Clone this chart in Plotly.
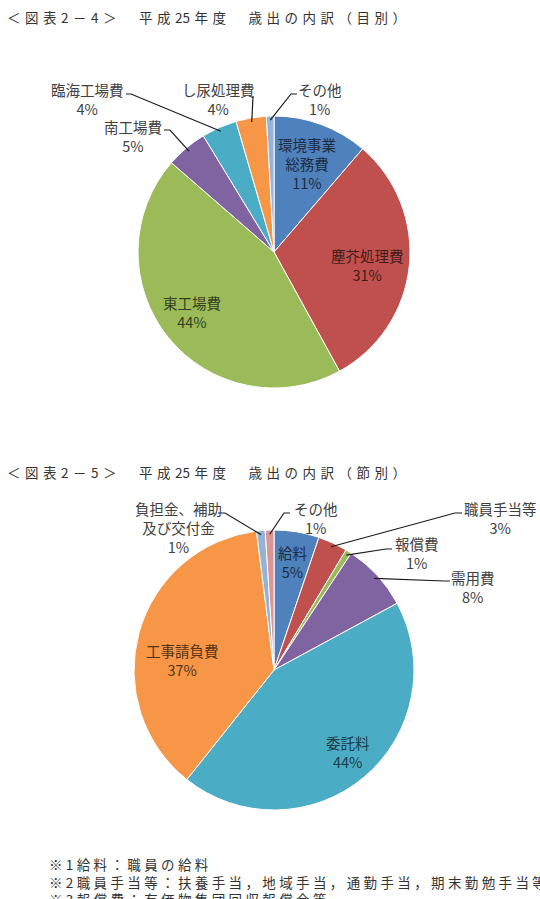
import math
import plotly.graph_objects as go

W, H = 540, 899

# ---------------- data ----------------
labels1 = ["環境事業総務費", "塵芥処理費", "東工場費", "南工場費", "臨海工場費", "し尿処理費", "その他"]
display1 = ["環境事業<br>総務費", "塵芥処理費", "東工場費", "南工場費", "臨海工場費", "し尿処理費", "その他"]
values1 = [11.3, 30.7, 44.4, 4.9, 4.2, 3.6, 0.9]
colors1 = ["#4F81BD", "#C0504D", "#9BBB59", "#8064A2", "#4BACC6", "#F79646", "#95B3D7"]

labels2 = ["給料", "職員手当等", "報償費", "需用費", "委託料", "工事請負費", "負担金、補助及び交付金", "その他"]
display2 = ["給料", "職員手当等", "報償費", "需用費", "委託料", "工事請負費", "負担金、補助<br>及び交付金", "その他"]
values2 = [5.2, 3.4, 0.7, 7.8, 43.6, 37.3, 1.0, 1.0]
colors2 = ["#4F81BD", "#C0504D", "#9BBB59", "#8064A2", "#4BACC6", "#F79646", "#95B3D7", "#D99694"]

title1 = "＜図表2－4＞　平成25年度　歳出の内訳（目別）"
title2 = "＜図表2－5＞　平成25年度　歳出の内訳（節別）"
notes = [
    "※1給料：職員の給料",
    "※2職員手当等：扶養手当，地域手当，通勤手当，期末勤勉手当等",
    "※3報償費：有価物集団回収報償金等",
]

# ---------------- layout constants (pixels) ----------------
C1, R1 = (274, 252), 136
C2, R2 = (274, 670), 140
FONT = "Noto Sans CJK JP, Noto Sans, sans-serif"


def px(x, y):
    return x / W, 1 - y / H


def darker(hexc, f=0.35):
    h = hexc.lstrip("#")
    r, g, b = (int(h[i:i + 2], 16) for i in (0, 2, 4))
    return "#%02x%02x%02x" % (int(r * f), int(g * f), int(b * f))


def edge(center, r, values, i, k=0.97):
    total = sum(values)
    cum = sum(values[:i]) + values[i] / 2
    a = 2 * math.pi * cum / total
    return center[0] + k * r * math.sin(a), center[1] - k * r * math.cos(a)


def spaced(s, sep):
    out = ""
    for j, ch in enumerate(s):
        out += ch
        if j < len(s) - 1:
            nxt = s[j + 1]
            if ch.isdigit() and nxt.isdigit():
                continue
            out += sep
    return out


def dom(center, r):
    cx, cy = center
    return dict(x=[(cx - r) / W, (cx + r) / W], y=[1 - (cy + r) / H, 1 - (cy - r) / H])


fig = go.Figure()
fig.add_trace(go.Pie(
    labels=labels1, values=values1, sort=False, direction="clockwise", rotation=0,
    marker=dict(colors=colors1, line=dict(color="white", width=1)),
    textinfo="none", hoverinfo="label+percent", showlegend=False,
    domain=dom(C1, R1),
))
fig.add_trace(go.Pie(
    labels=labels2, values=values2, sort=False, direction="clockwise", rotation=0,
    marker=dict(colors=colors2, line=dict(color="white", width=1)),
    textinfo="none", hoverinfo="label+percent", showlegend=False,
    domain=dom(C2, R2),
))

annotations = []
shapes = []


def pct(values, i):
    return "%d%%" % round(values[i] / sum(values) * 100)


def add_label(text, x, y, color, size=14.5):
    xx, yy = px(x, y)
    annotations.append(dict(
        text=text, x=xx, y=yy, xref="paper", yref="paper", showarrow=False,
        xanchor="center", yanchor="middle", align="center",
        font=dict(family=FONT, size=size, color=color),
    ))


def add_leader(start, elbow, end):
    pts = [px(*start), px(*elbow), px(*end)]
    path = "M %f,%f L %f,%f L %f,%f" % (pts[0][0], pts[0][1], pts[1][0], pts[1][1], pts[2][0], pts[2][1])
    shapes.append(dict(type="path", path=path, xref="paper", yref="paper",
                       line=dict(color="#1a1a1a", width=1.2)))


# chart 1 labels: (index, center x, center y, inside?)
lab1 = [(0, 307, 163, True), (1, 367, 265, True), (2, 192, 312, True),
        (3, 133, 136, False), (4, 87, 99, False), (5, 218, 99, False), (6, 320, 99, False)]
for i, x, y, inside in lab1:
    col = darker(colors1[i]) if inside else "#404040"
    add_label(display1[i] + "<br>" + pct(values1, i), x, y, col)

lead1 = [(3, (164, 130), (170, 130)), (4, (126, 94), (131, 94)),
         (5, (253, 96), (253, 97)), (6, (297, 94), (291, 94))]
for i, s, e in lead1:
    add_leader(s, e, edge(C1, R1, values1, i))

lab2 = [(0, 292, 562, True), (1, 500, 517.5, False), (2, 417, 552.5, False), (3, 473, 586.5, False),
        (4, 348, 752, True), (5, 182, 660, True), (6, 178, 527, False), (7, 316, 517.5, False)]
for i, x, y, inside in lab2:
    col = darker(colors2[i]) if inside else "#404040"
    add_label(display2[i] + "<br>" + pct(values2, i), x, y, col)

lead2 = [(1, (462, 513), (455, 513)), (2, (392, 549), (386, 549)), (3, (450, 581), (444, 581)),
         (6, (218, 513), (225, 513)), (7, (290, 513), (284, 513))]
for i, s, e in lead2:
    add_leader(s, e, edge(C2, R2, values2, i))

# titles
for t, y in ((title1, 17), (title2, 472)):
    xx, yy = px(5, y)
    annotations.append(dict(
        text=spaced(t, "\u2004"), x=xx, y=yy, xref="paper", yref="paper", showarrow=False,
        xanchor="left", yanchor="middle", font=dict(family=FONT, size=13.5, color="#333333"),
    ))

# footnotes (one block, three lines)
xx, yy = px(47, 881)
annotations.append(dict(
    text="<br>".join(spaced(t, "\u2005") for t in notes), x=xx, y=yy,
    xref="paper", yref="paper", showarrow=False, align="left",
    xanchor="left", yanchor="middle", font=dict(family=FONT, size=13.5, color="#333333"),
))

fig.update_layout(
    width=W, height=H, margin=dict(l=0, r=0, t=0, b=0),
    paper_bgcolor="white", plot_bgcolor="white",
    annotations=annotations, shapes=shapes,
)

fig.write_html("out.html")
